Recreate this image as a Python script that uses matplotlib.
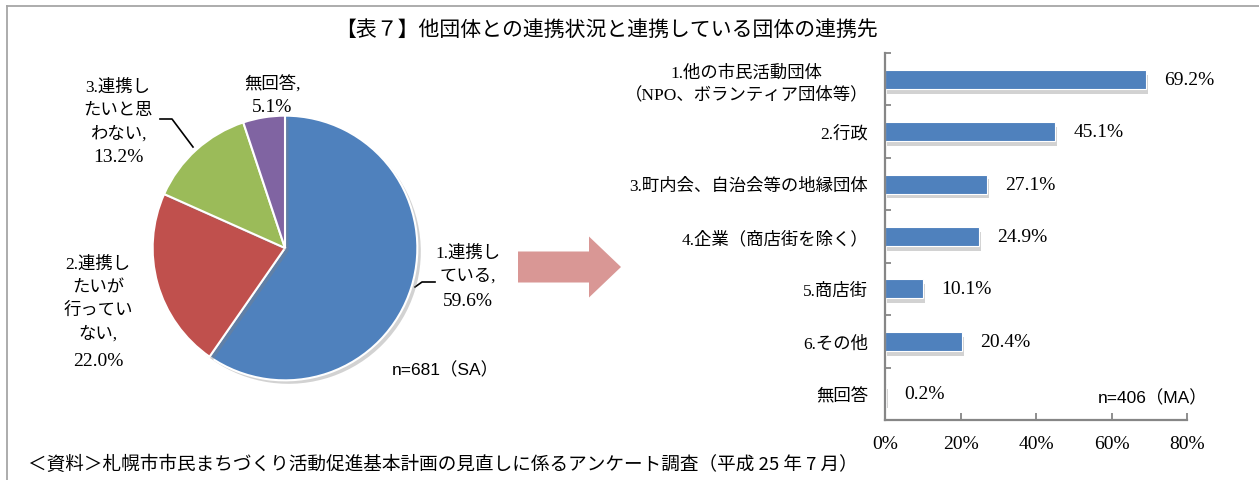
import matplotlib
matplotlib.use("Agg")
import matplotlib.pyplot as plt
from matplotlib import patheffects as pe
from matplotlib.patches import FancyArrow

# ---------------- data ----------------
pie_labels = ["1.連携し\nている", "2.連携し\nたいが\n行ってい\nない", "3.連携し\nたいと思\nわない", "無回答"]
pie_values = [59.6, 22.0, 13.2, 5.1]
pie_colors = ["#4F81BD", "#C0504D", "#9BBB59", "#8064A2"]

bar_labels = ["1.他の市民活動団体\n（NPO、ボランティア団体等）", "2.行政",
              "3.町内会、自治会等の地縁団体", "4.企業（商店街を除く）",
              "5.商店街", "6.その他", "無回答"]
bar_values = [69.2, 45.1, 27.1, 24.9, 10.1, 20.4, 0.2]
x_ticks = [0, 20, 40, 60, 80]

title = "【表７】他団体との連携状況と連携している団体の連携先"
caption = "＜資料＞札幌市市民まちづくり活動促進基本計画の見直しに係るアンケート調査（平成 25 年 7 月）"
pie_note = "n=681（SA）"
bar_note = "n=406（MA）"

SERIF = ["Liberation Serif", "Noto Sans CJK JP"]
SANS = ["Liberation Sans", "Noto Sans CJK JP"]
CJK = ["Noto Sans CJK JP", "DejaVu Sans"]

W, H = 1259, 481
fig = plt.figure(figsize=(W / 100, H / 100), dpi=100)
fig.patch.set_facecolor("white")

# overlay axes in pixel coordinates
ov = fig.add_axes([0, 0, 1, 1])
ov.set_xlim(0, W)
ov.set_ylim(H, 0)
ov.axis("off")
ov.set_zorder(0)

# border
ov.plot([7, 7], [481, 7], color="#A6A6A6", lw=1.3)
ov.plot([7, 1259], [7, 7], color="#A6A6A6", lw=1.3)

# title & caption
ov.text(607, 31, title, ha="center", va="center", fontsize=15, family=SERIF)
ov.text(28, 465, caption, ha="left", va="center", fontsize=13.4, family=CJK)

# ---------------- pie ----------------
cx, cy, r = 285, 249, 135
axp = fig.add_axes([(cx - r) / W, (H - cy - r) / H, 2 * r / W, 2 * r / H])
axp.set_zorder(2)
wedges, _ = axp.pie(pie_values, colors=pie_colors, startangle=90, counterclock=False,
                    radius=1, wedgeprops=dict(edgecolor="white", linewidth=1.5))
for w in wedges:
    w.set_path_effects([pe.SimplePatchShadow(offset=(2.5, -2.5), shadow_rgbFace="#808080", alpha=0.35),
                        pe.Normal()])
axp.set_xlim(-1.02, 1.02)
axp.set_ylim(-1.02, 1.02)
axp.set_aspect("auto")
axp.axis("off")

# label layout: (center x, name-block center y, value line y)
pie_label_pos = [(468, 265.5, 302), (98, 300, 362), (118, 111, 158), (272, 85, 108)]
for lab, v, (px, ny, vy) in zip(pie_labels, pie_values, pie_label_pos):
    ov.text(px, ny, f"{lab},", ha="center", va="center", fontsize=12.5,
            family=SERIF, linespacing=1.58, multialignment="center")
    ov.text(px, vy, f"{v:.1f}%", ha="center", va="center", fontsize=14, family=SERIF)

# leader lines
ov.plot([160, 172, 193], [120, 120, 148], color="black", lw=1.2, zorder=5)
ov.plot([415, 422, 435], [288, 283, 283], color="black", lw=1.2, zorder=5)
ov.text(445, 370, pie_note, ha="center", va="center", fontsize=12.5, family=SANS)

# arrow
arrow = FancyArrow(518, 268, 103, 0, width=31, head_width=61, head_length=32,
                   length_includes_head=True, color="#D99795", lw=0)
ov.add_patch(arrow)

# ---------------- bar chart ----------------
ax_l, ax_r, ax_t, ax_b = 885, 1187, 54, 421
axb = fig.add_axes([ax_l / W, (H - ax_b) / H, (ax_r - ax_l) / W, (ax_b - ax_t) / H])
axb.set_zorder(2)
axb.patch.set_alpha(0)
ypos = list(range(len(bar_values)))
bars = axb.barh(ypos, bar_values, height=0.36, color="#4F81BD", edgecolor="white", linewidth=0.8)
for b in bars:
    b.set_path_effects([pe.SimplePatchShadow(offset=(1.5, -3.5), shadow_rgbFace="#7F7F7F", alpha=0.35),
                        pe.Normal()])
axb.set_xlim(0, 80)
axb.set_ylim(len(bar_values) - 0.5, -0.5)

for y, v in zip(ypos, bar_values):
    axb.annotate(f"{v:.1f}%", (v, y), xytext=(13, 0), textcoords="offset points",
                 ha="left", va="center", fontsize=14, family=SERIF)

axb.set_yticks(ypos)
axb.set_yticklabels(bar_labels, fontsize=12.5, family=SERIF, multialignment="center",
                    linespacing=1.35)
axb.set_yticks([y - 0.5 for y in ypos] + [len(ypos) - 0.5], minor=True)
axb.tick_params(axis="y", which="major", length=0, pad=12)
axb.tick_params(axis="y", which="minor", direction="in", length=4, width=1.3, color="#868686")
axb.set_xticks(x_ticks)
axb.set_xticklabels([f"{t}%" for t in x_ticks], fontsize=14, family=SERIF)
axb.tick_params(axis="x", direction="in", length=5, width=1.3, color="#868686", pad=11)
for s in ["top", "right"]:
    axb.spines[s].set_visible(False)
for s in ["left", "bottom"]:
    axb.spines[s].set_color("#868686")
    axb.spines[s].set_linewidth(1.6)

ov.text(1153, 398, bar_note, ha="center", va="center", fontsize=12.5, family=SANS)

fig.savefig("out.png", dpi=100)
